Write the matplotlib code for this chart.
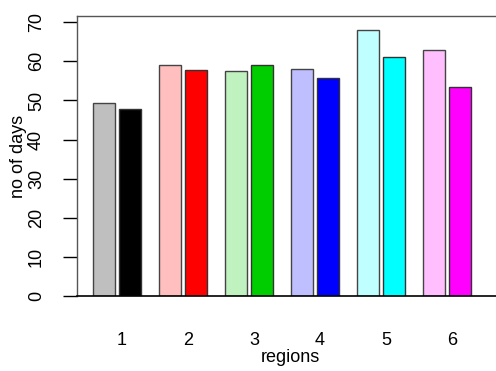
import matplotlib
matplotlib.use("Agg")
import matplotlib.pyplot as plt
import numpy as np

regions = ["1", "2", "3", "4", "5", "6"]
series_a = [49.3, 59.0, 57.4, 58.0, 68.0, 63.0]
series_b = [47.8, 57.8, 59.0, 55.8, 61.0, 53.5]
colors_a = ["#BFBFBF", "#FFBFBF", "#BFF2BF", "#BFBFFF", "#BFFFFF", "#FFBFFF"]
colors_b = ["#000000", "#FF0000", "#00CD00", "#0000FF", "#00FFFF", "#FF00FF"]
yticks = [0, 10, 20, 30, 40, 50, 60, 70]

plt.rcParams['font.family'] = ['Liberation Sans', 'DejaVu Sans']

W, H = 496, 371
fig = plt.figure(figsize=(W / 100, H / 100), dpi=100)
left, right, top, bottom = 77, 503, 16, 296.3
ax = fig.add_axes([left / W, (H - bottom) / H, (right - left) / W, (bottom - top) / H])

pitch = 3.0
x0 = 1.24
idx = np.arange(len(regions))
xa = x0 + idx * pitch
xb = xa + 1.15
ax.bar(xa, series_a, width=1.0, color=colors_a, edgecolor="#444444", linewidth=1.0, zorder=2)
ax.bar(xb, series_b, width=1.0, color=colors_b, edgecolor="#333333", linewidth=1.0, zorder=2)

ax.set_xlim(0, (right - left) / 22.0)
ax.set_ylim(0, 71.56)

for s in ["top", "left", "right"]:
    ax.spines[s].set_color("#555555")
    ax.spines[s].set_linewidth(1.0)
ax.spines["bottom"].set_color("black")
ax.spines["bottom"].set_linewidth(1.2)

ax.set_yticks(yticks)
ax.set_yticklabels([str(v) for v in yticks], rotation=90, va="center", fontsize=13)
ax.tick_params(axis="y", length=10, width=1.0, pad=13, color="black")

centers = (xa + xb) / 2 + 0.23
ax.set_xticks(centers)
ax.set_xticklabels(regions, fontsize=13)
ax.tick_params(axis="x", length=0, pad=26)

ax.set_xlabel("regions", fontsize=13, labelpad=0)
ax.set_ylabel("no of days", fontsize=13, labelpad=1)

fig.savefig("out.png", dpi=100)
